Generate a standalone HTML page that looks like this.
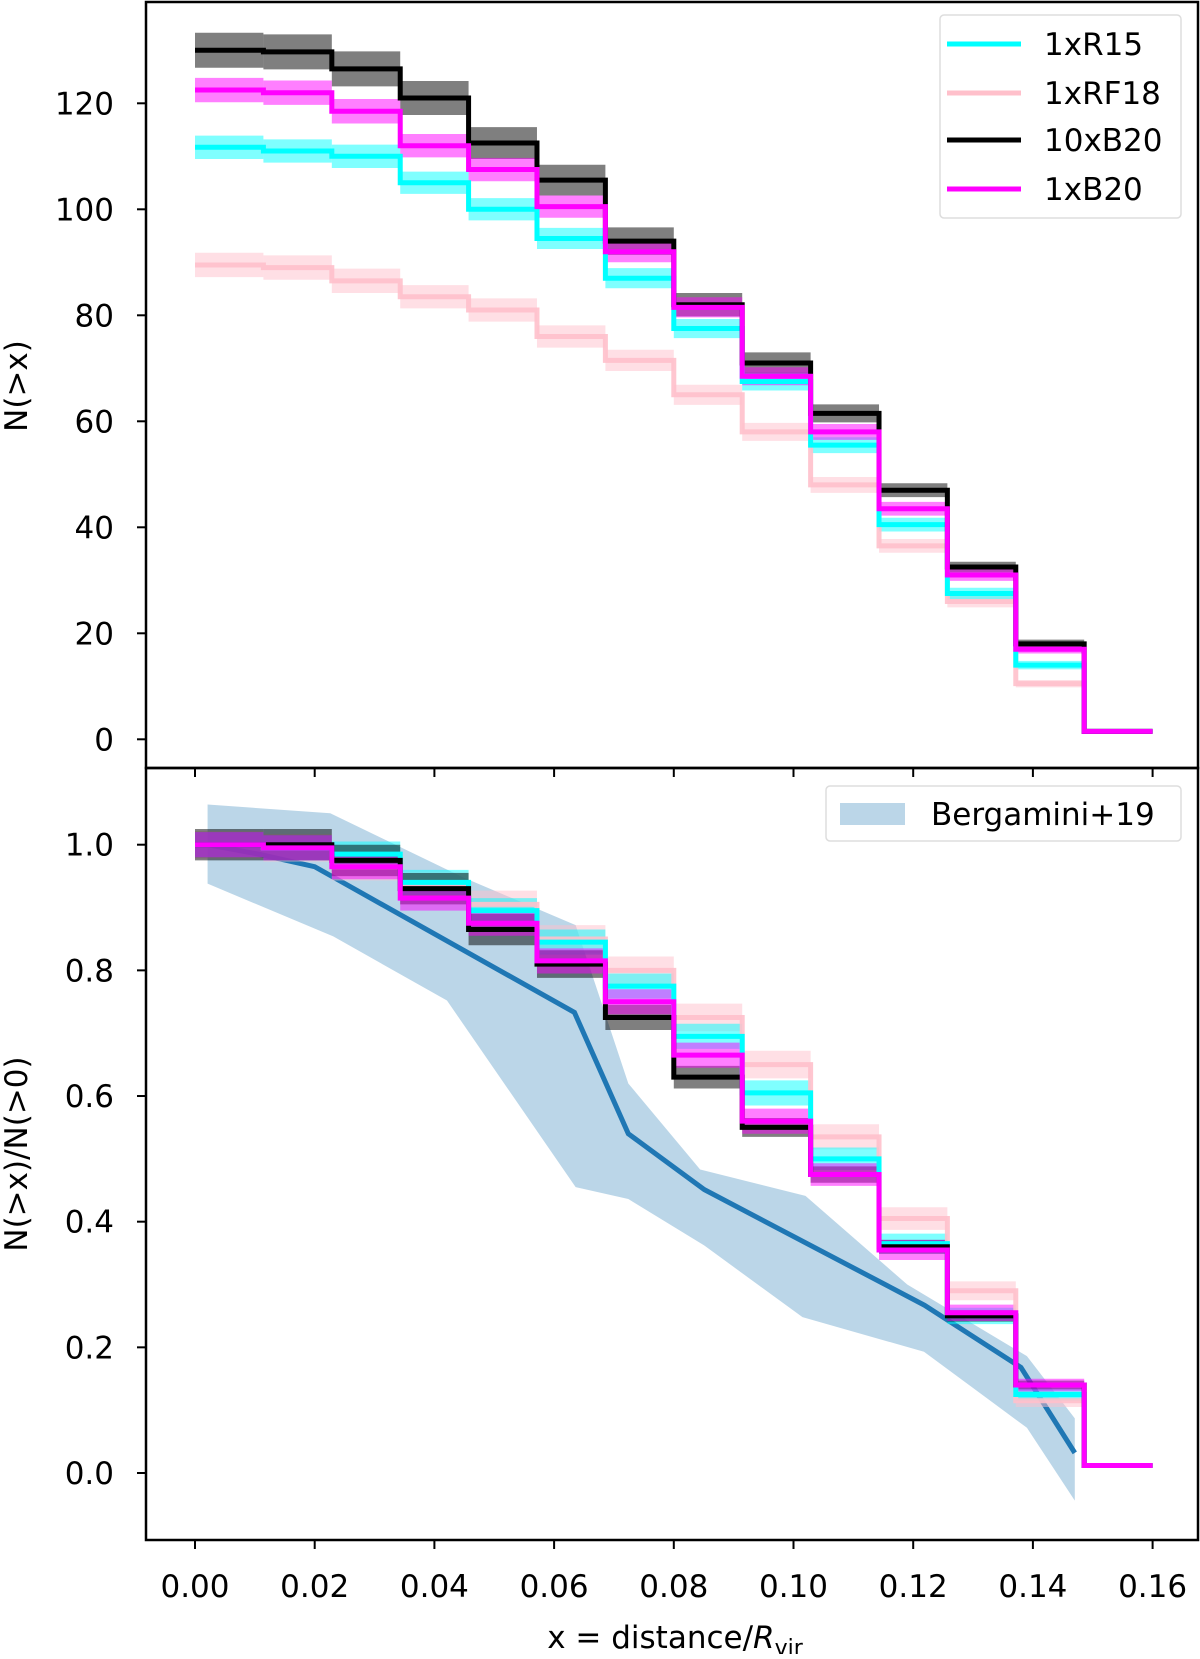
<!DOCTYPE html>
<html><head><meta charset="utf-8"><style>
html,body{margin:0;padding:0;background:#fff;}
svg text{font-family:"DejaVu Sans","Liberation Sans",sans-serif;fill:#000;}
</style></head><body>
<svg id="fig" width="1200" height="1654" viewBox="0 0 1200 1654" xmlns="http://www.w3.org/2000/svg"></svg>
<script>
const edges = [0,0.01143,0.02286,0.03429,0.04571,0.05714,0.06857,0.08,0.09143,0.10286,0.11429,0.12571,0.13714,0.14857,0.16];
const seriesNames = ["1xRF18","1xR15","10xB20","1xB20"];
const seriesColors = ["#ffc0cb","#00ffff","#000000","#ff00ff"];
const topRF18 = [89.5,89,86.5,83.5,81,76,71.5,65,58,48,36.5,26,10.5,1.5];
const topR15 = [111.7,111,110,105,100,94.5,87,77.5,67.5,55.5,40.5,27.5,14,1.5];
const topB20x10 = [130,129.7,126.5,121,112.5,105.5,94,82,71,61.5,47,32.5,18,1.5];
const topB20 = [122.5,122,118.5,112,107.5,100.5,92,81.5,68.5,58,43.5,31,17,1.5];
const topErrRF18 = [2.3,2.3,2.3,2.2,2.2,2.1,2,1.9,1.7,1.5,1.3,1.1,0.7,0.3];
const topErrR15 = [2.2,2.2,2.2,2.1,2.1,2,1.9,1.8,1.7,1.5,1.3,1.1,0.8,0.3];
const topErrB20x10 = [3.3,3.3,3.3,3.2,3,2.9,2.6,2.2,2,1.7,1.3,1,0.8,0.3];
const topErrB20 = [2.3,2.3,2.3,2.2,2.2,2.1,2,1.9,1.7,1.5,1.3,1.1,0.8,0.3];
const botRF18 = [1.0,0.995,0.965,0.935,0.905,0.85,0.8,0.725,0.65,0.535,0.405,0.29,0.115,0.012];
const botR15 = [1.0,0.995,0.985,0.94,0.895,0.845,0.775,0.695,0.605,0.5,0.365,0.25,0.125,0.012];
const botB20x10 = [1.0,1.0,0.975,0.93,0.865,0.81,0.725,0.63,0.55,0.475,0.36,0.25,0.14,0.012];
const botB20 = [1.0,0.995,0.965,0.915,0.875,0.815,0.75,0.665,0.56,0.475,0.355,0.255,0.14,0.012];
const botErrRF18 = [0.022,0.022,0.022,0.022,0.022,0.022,0.022,0.022,0.022,0.02,0.018,0.015,0.01,0.003];
const botErrR15 = [0.02,0.02,0.02,0.02,0.02,0.02,0.02,0.02,0.02,0.018,0.016,0.013,0.01,0.003];
const botErrB20x10 = [0.025,0.025,0.025,0.025,0.025,0.022,0.02,0.018,0.015,0.013,0.011,0.009,0.007,0.003];
const botErrB20 = [0.02,0.02,0.02,0.02,0.02,0.02,0.02,0.02,0.02,0.018,0.016,0.013,0.01,0.003];
const bergX = [0.0021,0.0106,0.02,0.0634,0.0724,0.0851,0.1219,0.138,0.147];
const bergY = [1.0,0.985,0.965,0.733,0.54,0.451,0.267,0.168,0.032];
const bergUpX = [0.0021,0.0226,0.0448,0.0636,0.0724,0.0844,0.102,0.119,0.139,0.147];
const bergUpY = [1.064,1.05,0.948,0.872,0.62,0.483,0.441,0.30,0.186,0.087];
const bergLoX = [0.0021,0.0231,0.0421,0.0636,0.0724,0.0851,0.1015,0.1218,0.139,0.147];
const bergLoY = [0.938,0.854,0.752,0.455,0.436,0.362,0.248,0.193,0.072,-0.044];
const xTicks = [0,0.02,0.04,0.06,0.08,0.10,0.12,0.14,0.16];
const xTickLabels = ["0.00","0.02","0.04","0.06","0.08","0.10","0.12","0.14","0.16"];
const topYTicks = [0,20,40,60,80,100,120];
const botYTicks = [0,0.2,0.4,0.6,0.8,1.0];
const botYTickLabels = ["0.0","0.2","0.4","0.6","0.8","1.0"];

const NS="http://www.w3.org/2000/svg";
const svg=document.getElementById('fig');
function mk(tag,attrs,parent){const e=document.createElementNS(NS,tag);for(const k in attrs)e.setAttribute(k,attrs[k]);(parent||svg).appendChild(e);return e;}
const L=146,R=1198,T=2,MID=768,B=1540;
const xs=v=>195+(v-0)*(1152.6-195)/0.16;
const yTop=v=>739.3+(v-0)*(103.3-739.3)/120;
const yBot=v=>1473+(v-0)*(844.7-1473)/1.0;

function stepPath(vals,ys){let d='';for(let i=0;i<vals.length;i++){const x0=xs(edges[i]),x1=xs(edges[i+1]),y=ys(vals[i]);d+=(i?'L':'M')+x0+' '+y+' L'+x1+' '+y+' ';}return d;}
function bandPath(vals,errs,ys,i){const x0=xs(edges[i]),x1=xs(edges[i+1]);return 'M'+x0+' '+ys(vals[i]+errs[i])+' L'+x1+' '+ys(vals[i]+errs[i])+' L'+x1+' '+ys(vals[i]-errs[i])+' L'+x0+' '+ys(vals[i]-errs[i])+' Z';}

function drawPanel(g,ys,vals,errs,pfx){
  for(let s=0;s<4;s++){
    for(let i=0;i<vals[s].length;i++){
      const b=mk('path',{d:bandPath(vals[s],errs[s],ys,i),fill:seriesColors[s],'fill-opacity':0.5},g);
      
      
    }
  }
  for(let s=0;s<4;s++){
    const p=mk('path',{d:stepPath(vals[s],ys),fill:'none',stroke:seriesColors[s],'stroke-width':5,'stroke-opacity':s==0?0.9:1},g);
    
    
  }
}

const gTop=mk('g',{});


drawPanel(gTop,yTop,[topRF18,topR15,topB20x10,topB20],[topErrRF18,topErrR15,topErrB20x10,topErrB20],'top');

const gBot=mk('g',{});


let bd='';
for(let i=0;i<bergUpX.length;i++)bd+=(i?'L':'M')+xs(bergUpX[i])+' '+yBot(bergUpY[i])+' ';
for(let i=bergLoX.length-1;i>=0;i--)bd+='L'+xs(bergLoX[i])+' '+yBot(bergLoY[i])+' ';
const band=mk('path',{d:bd+'Z',fill:'#1f77b4','fill-opacity':0.3},gBot);


let ld='';
for(let i=0;i<bergX.length;i++)ld+=(i?'L':'M')+xs(bergX[i])+' '+yBot(bergY[i])+' ';
drawPanel(gBot,yBot,[botRF18,botR15,botB20x10,botB20],[botErrRF18,botErrR15,botErrB20x10,botErrB20],'bottom');
const bl=mk('path',{d:ld,fill:'none',stroke:'#1f77b4','stroke-width':5},gBot);
gBot.insertBefore(bl,band.nextSibling);



const f1=mk('rect',{x:L,y:T,width:R-L,height:MID-T,fill:'none',stroke:'#000','stroke-width':2.5});


const f2=mk('rect',{x:L,y:MID,width:R-L,height:B-MID,fill:'none',stroke:'#000','stroke-width':2.5});



for(let i=0;i<xTicks.length;i++){
  const x=xs(xTicks[i]);
  const t1=mk('line',{x1:x,x2:x,y1:MID,y2:MID+9,stroke:'#000','stroke-width':2});
  
  
  const t2=mk('line',{x1:x,x2:x,y1:B,y2:B+9,stroke:'#000','stroke-width':2});
  
  
  const tl=mk('text',{x:x,y:1597,'font-size':31,'text-anchor':'middle'});
  tl.textContent=xTickLabels[i];
  
  
}
for(let i=0;i<topYTicks.length;i++){
  const y=yTop(topYTicks[i]);
  const t=mk('line',{x1:L-9,x2:L,y1:y,y2:y,stroke:'#000','stroke-width':2});
  
  
  const tl=mk('text',{x:114,y:y+11,'font-size':31,'text-anchor':'end'});
  tl.textContent=String(topYTicks[i]);
  
  
}
for(let i=0;i<botYTicks.length;i++){
  const y=yBot(botYTicks[i]);
  const t=mk('line',{x1:L-9,x2:L,y1:y,y2:y,stroke:'#000','stroke-width':2});
  
  
  const tl=mk('text',{x:114,y:y+11,'font-size':31,'text-anchor':'end'});
  tl.textContent=botYTickLabels[i];
  
  
}
</script>
<svg style="position:absolute;left:0;top:0" width="1200" height="1654" xmlns="http://www.w3.org/2000/svg">
  <text x="0" y="0" font-size="31" text-anchor="middle" transform="translate(27,386) rotate(-90)">N(&gt;x)</text>
  <text x="0" y="0" font-size="31" text-anchor="middle" transform="translate(27,1154) rotate(-90)">N(&gt;x)/N(&gt;0)</text>
  <text x="675" y="1648" font-size="31" text-anchor="middle">x = distance/<tspan font-style="italic">R</tspan><tspan font-size="22" dy="7">vir</tspan></text>
  <g>
    <rect x="940" y="15" width="241" height="203" rx="4" fill="#fff" fill-opacity="0.8" stroke="#ddd" stroke-width="1.5"/>
    <g><line x1="947" x2="1021" y1="44" y2="44" stroke="#00ffff" stroke-width="5"/><text x="1044" y="55" font-size="31">1xR15</text></g>
    <g><line x1="947" x2="1021" y1="93" y2="93" stroke="#ffc0cb" stroke-width="5"/><text x="1044" y="104" font-size="31">1xRF18</text></g>
    <g><line x1="947" x2="1021" y1="140" y2="140" stroke="#000" stroke-width="5"/><text x="1044" y="151" font-size="31">10xB20</text></g>
    <g><line x1="947" x2="1021" y1="189" y2="189" stroke="#ff00ff" stroke-width="5"/><text x="1044" y="200" font-size="31">1xB20</text></g>
  </g>
  <g>
    <rect x="826" y="786" width="355" height="55" rx="4" fill="#fff" fill-opacity="0.8" stroke="#ddd" stroke-width="1.5"/>
    <g><rect x="840" y="803" width="65" height="22" fill="#1f77b4" fill-opacity="0.3"/><text x="931" y="825" font-size="31">Bergamini+19</text></g>
  </g>
</svg>
</body></html>
